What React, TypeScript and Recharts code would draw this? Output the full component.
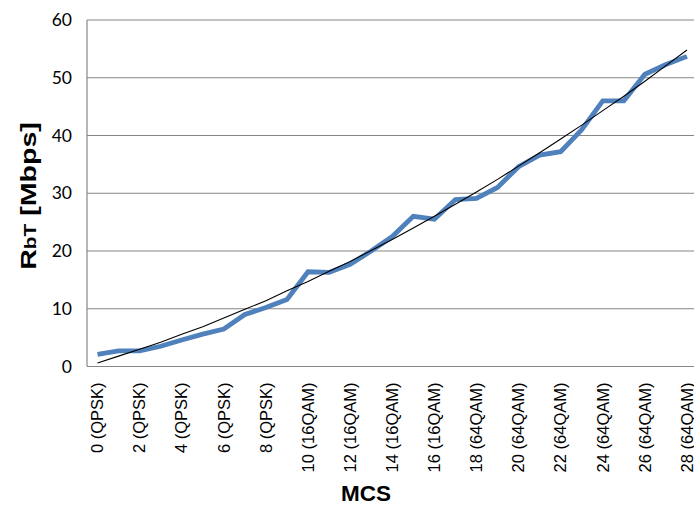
import React from "react";
import { LineChart, Line, XAxis, YAxis, CartesianGrid } from "recharts";

const mcsIndex = [0, 1, 2, 3, 4, 5, 6, 7, 8, 9, 10, 11, 12, 13, 14, 15, 16, 17, 18, 19, 20, 21, 22, 23, 24, 25, 26, 27, 28];
const modulation = [
  "QPSK", "QPSK", "QPSK", "QPSK", "QPSK", "QPSK", "QPSK", "QPSK", "QPSK", "QPSK",
  "16QAM", "16QAM", "16QAM", "16QAM", "16QAM", "16QAM", "16QAM",
  "64QAM", "64QAM", "64QAM", "64QAM", "64QAM", "64QAM", "64QAM", "64QAM", "64QAM", "64QAM", "64QAM", "64QAM",
];
const throughput = [2.1, 2.7, 2.7, 3.5, 4.6, 5.6, 6.5, 9.0, 10.2, 11.6, 16.4, 16.3, 17.7, 20.0, 22.5, 26.0, 25.5, 28.9, 29.1, 31.0, 34.6, 36.6, 37.2, 41.0, 46.0, 46.0, 50.6, 52.3, 53.7];
const trend = [0.6, 1.8, 3.0, 4.2, 5.6, 6.9, 8.4, 9.9, 11.4, 13.1, 14.7, 16.5, 18.2, 20.1, 22.0, 24.0, 26.0, 28.1, 30.2, 32.4, 34.7, 37.0, 39.4, 41.8, 44.3, 46.8, 49.4, 52.1, 54.8];
const yTicks = [0, 10, 20, 30, 40, 50, 60];

const data = mcsIndex.map((m, i) => ({
  label: `${m} (${modulation[i]})`,
  rbt: throughput[i],
  trend: trend[i],
}));

const XTick = (props: any) => {
  const { x, y, payload } = props;
  return (
    <text
      x={x}
      y={y}
      transform={`rotate(-90, ${x}, ${y})`}
      textAnchor="end"
      dy="0.35em"
      fontFamily="'Liberation Sans', Arial, sans-serif"
      fontSize={16.5}
      fill="#000"
    >
      {payload.value}
    </text>
  );
};

const YTitle = () => (
  <text
    x={0}
    y={0}
    transform="translate(28, 196) rotate(-90) scale(1.3, 1)"
    textAnchor="middle"
    dy="0.35em"
    fontFamily="'Liberation Sans', Arial, sans-serif"
    fontWeight="bold"
    fontSize={22}
    fill="#000"
  >
    R<tspan fontSize={16}>bT</tspan> [Mbps]
  </text>
);

const XTitle = () => (
  <text
    x={366}
    y={493}
    textAnchor="middle"
    dy="0.35em"
    fontFamily="'Liberation Sans', Arial, sans-serif"
    fontWeight="bold"
    fontSize={22.5}
    fill="#000"
  >
    MCS
  </text>
);

export default function App() {
  return (
    <div
      style={{
        position: "absolute",
        left: 0,
        top: 0,
        width: 694,
        height: 529,
        overflow: "hidden",
        background: "#fff",
      }}
    >
      <LineChart
        width={710}
        height={529}
        data={data}
        margin={{ top: 20, right: 12.5, bottom: 0, left: 0 }}
      >
        <CartesianGrid vertical={false} stroke="#868686" strokeWidth={1.2} />
        <XAxis
          dataKey="label"
          interval={1}
          height={162.5}
          padding={{ left: 10.5, right: 10.5 }}
          tickLine={false}
          tickSize={0}
          tickMargin={16}
          tick={<XTick />}
          axisLine={{ stroke: "#868686", strokeWidth: 1.2 }}
          label={<XTitle />}
        />
        <YAxis
          domain={[0, 60]}
          ticks={yTicks}
          width={87}
          tickLine={false}
          tickSize={0}
          tickMargin={15}
          axisLine={{ stroke: "#868686", strokeWidth: 1.2 }}
          tick={{ fill: "#000", fontSize: 17.5, fontFamily: "Lato, 'Open Sans', sans-serif" }}
          label={<YTitle />}
        />
        <Line
          dataKey="rbt"
          stroke="#4F81BD"
          strokeWidth={4.8}
          dot={false}
          isAnimationActive={false}
          strokeLinejoin="miter"
        />
        <Line
          dataKey="trend"
          stroke="#000"
          strokeWidth={1.1}
          dot={false}
          isAnimationActive={false}
        />
      </LineChart>
    </div>
  );
}
